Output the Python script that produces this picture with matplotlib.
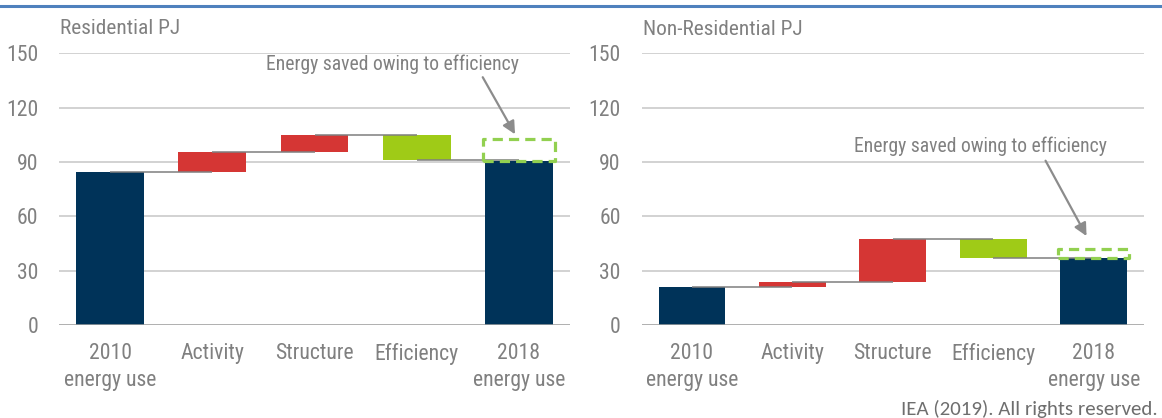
import matplotlib
matplotlib.use("Agg")
import matplotlib.pyplot as plt
from matplotlib import font_manager as fm
from matplotlib.patches import Rectangle
from matplotlib.lines import Line2D

# ---------------- data ----------------
categories = ["2010\nenergy use", "Activity", "Structure", "Efficiency", "2018\nenergy use"]

res_start = 84.4
res_changes = [11.2, 9.4, -14.0]      # activity, structure, efficiency
res_end = 90.8
res_saved = 12.0                      # dashed "energy saved" box

nonres_start = 20.8
nonres_changes = [3.0, 23.7, -10.3]
nonres_end = 36.8
nonres_saved = 5.2

yticks = [0, 30, 60, 90, 120, 150]
titles = ["Residential PJ", "Non-Residential PJ"]
note = "Energy saved owing to efficiency"
footer = "IEA (2019). All rights reserved."

# ---------------- style ----------------
names = {f.name for f in fm.fontManager.ttflist}
def pick(*cands):
    for c in cands:
        if c in names:
            return c
    return "DejaVu Sans"
NARROW = pick("Liberation Sans Narrow", "Roboto Condensed", "Archivo Narrow", "PT Sans Narrow", "Liberation Sans")
FOOT = pick("Carlito", "Lato", "Open Sans")

NAVY = "#003359"
RED = "#D53634"
GREEN = "#9FCB17"
LGREEN = "#92D050"
TXT = "#808080"
GRID = "#C6C6C6"
BASE = "#A6A6A6"
CONN = "#7F7F7F"

W, H, DPI = 1162, 418, 100
fig = plt.figure(figsize=(W / DPI, H / DPI), dpi=DPI)
renderer = fig.canvas.get_renderer()

def fit(text, family, target_px, ref=20.0):
    t = fig.text(0, 0, text, fontsize=ref, family=family)
    w = t.get_window_extent(renderer=renderer).width
    t.remove()
    return ref * target_px / w

FS_TICK = fit("energy use", NARROW, 93)
FS_NOTE = fit(note, NARROW, 253)
FS_TITLE = fit(titles[0], NARROW, 120)
FS_FOOT = fit(footer, FOOT, 256)

def px_axes(x0, x1, ytop, ybot):
    return fig.add_axes([x0 / W, 1 - ybot / H, (x1 - x0) / W, (ybot - ytop) / H])

def draw(ax, start, changes, end, saved, title_xy, title, text_xy, tail, head):
    bw = 0.665
    ax.bar(0, start, width=bw, color=NAVY, zorder=2)
    level = start
    levels = [start]
    for i, c in enumerate(changes, start=1):
        bottom = level if c > 0 else level + c
        ax.bar(i, abs(c), bottom=bottom, width=bw,
               color=RED if c > 0 else GREEN, zorder=2)
        level += c
        levels.append(level)
    ax.bar(4, end, width=bw, color=NAVY, zorder=2)
    for i, lv in enumerate(levels):
        ax.plot([i, i + 1], [lv, lv], color=CONN, lw=1.1, zorder=3,
                solid_capstyle="butt")
    box_w = 0.71
    ax.add_patch(Rectangle((4 - box_w / 2, end), box_w, saved, fill=False,
                           edgecolor=LGREEN, lw=2.3, linestyle=(0, (3.2, 1.9)),
                           joinstyle="round", zorder=4))
    ax.annotate("", xy=head, xytext=tail,
                arrowprops=dict(arrowstyle="-|>", color="#8C8C8C", lw=1.6,
                                mutation_scale=19, shrinkA=0, shrinkB=0),
                zorder=5)
    ax.text(text_xy[0], text_xy[1], note, ha="left", va="center",
            fontsize=FS_NOTE, color=TXT, family=NARROW, zorder=5)

    ax.set_xlim(-0.5, 4.5)
    ax.set_ylim(0, 150)
    ax.set_yticks(yticks)
    ax.set_xticks(range(len(categories)))
    ax.set_xticklabels(categories, linespacing=1.38)
    for lab in ax.get_xticklabels() + ax.get_yticklabels():
        lab.set_family(NARROW)
        lab.set_fontsize(FS_TICK)
        lab.set_color(TXT)
    ax.tick_params(axis="both", length=0)
    ax.tick_params(axis="y", pad=15)
    ax.tick_params(axis="x", pad=13)
    ax.yaxis.grid(True, color=GRID, lw=1.1)
    ax.set_axisbelow(True)
    for s in ax.spines.values():
        s.set_visible(False)
    ax.axhline(0, color=BASE, lw=1.8, zorder=3)
    fig.text(title_xy[0] / W, 1 - title_xy[1] / H, title, ha="left", va="center",
             fontsize=FS_TITLE, color=TXT, family=NARROW)

ax1 = px_axes(59, 570, 53.3, 325)
draw(ax1, res_start, res_changes, res_end, res_saved, (60, 28.5), titles[0],
     (1.53, 144), (3.646, 136.8), (3.962, 105.3))

ax2 = px_axes(641.7, 1144, 53.3, 325)
draw(ax2, nonres_start, nonres_changes, nonres_end, nonres_saved, (643, 29.5), titles[1],
     (1.615, 98.8), (3.52, 90.7), (3.928, 49.1))

fig.add_artist(Line2D([0, 1], [1 - 6 / H, 1 - 6 / H], transform=fig.transFigure,
                      color="#4F81BD", lw=2.2))
fig.text(1158 / W, 1 - 415 / H, footer, ha="right", va="baseline",
         fontsize=FS_FOOT, color="#6E6E6E", family=FOOT)

fig.savefig("out.png", dpi=DPI)
